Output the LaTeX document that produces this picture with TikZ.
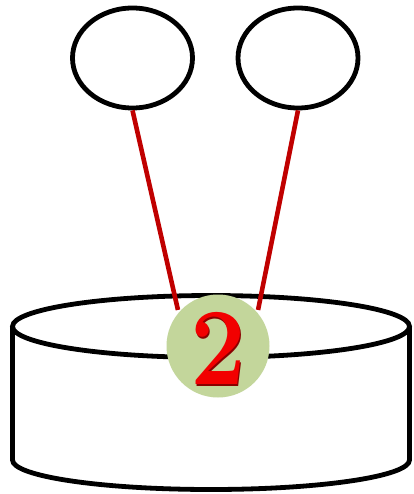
\documentclass[tikz,border=0pt]{standalone}
\usepackage{tikz}
\usetikzlibrary{shapes.geometric}
\definecolor{linkred}{HTML}{C00000}
\definecolor{badgegreen}{HTML}{C3D69B}
\definecolor{digitred}{HTML}{F20000}
\definecolor{digitshade}{HTML}{8A0000}

\begin{document}
\begin{tikzpicture}[x=1pt,y=-1pt,line width=4.8pt]
    \tikzstyle{bubble}=[ellipse,draw=black,fill=white,minimum width=120pt,minimum height=100pt,inner sep=0pt]
    \tikzstyle{link}=[draw=linkred,line width=4.6pt]
    \tikzstyle{badge}=[circle,fill=badgegreen,minimum size=103pt,inner sep=0pt]
    \tikzstyle{digit}=[inner sep=0pt,xscale=.9,font=\fontsize{110}{110}\selectfont\bfseries]
    \useasboundingbox (0,0) rectangle (413,494);
    \coordinate (drum) at (211,326.5);
    \path[draw=black,fill=white] (12.5,326.5) -- (12.5,460) arc[start angle=180,end angle=0,x radius=198.5,y radius=29.5] -- (409.5,326.5);
    \draw[fill=white] (drum) ellipse [x radius=198.5,y radius=31];
    \node[bubble] (A) at (132.5,58) {};
    \node[bubble] (B) at (298,58) {};
    \node[badge] (C) at (218,346) {};
    \path
    (A.south) edge[link] (C.138)
    (B.south) edge[link] (C.42);
    \node[digit,text=digitshade,xshift=1.6pt,yshift=-4pt] (Cs) at (C) {2};
    \node[digit,text=digitred,yshift=-2.5pt] (Cn) at (C) {2};
  \end{tikzpicture}
\end{document}
